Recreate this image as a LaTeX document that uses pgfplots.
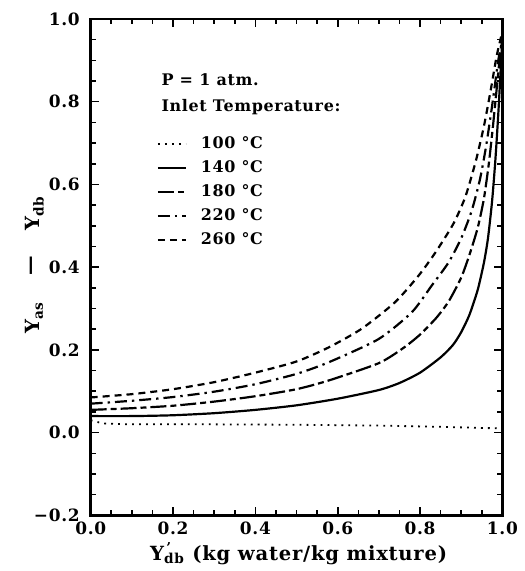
\documentclass[border=0pt]{standalone}
\usepackage{fontspec}
\setmainfont{DejaVu Serif}[LetterSpace=4]
\usepackage{pgfplots}
\pgfplotsset{compat=1.18}

% Y_as - Y_db, one table per inlet temperature
\pgfplotstableread{
x y
0.00 0.030
0.03 0.022
0.10 0.020
0.30 0.020
0.50 0.019
0.70 0.017
0.85 0.014
1.00 0.010
}\tA
\pgfplotstableread{
x y
0.00 0.040
0.10 0.040
0.20 0.042
0.30 0.047
0.40 0.055
0.50 0.066
0.60 0.082
0.70 0.103
0.75 0.120
0.80 0.145
0.85 0.182
0.88 0.212
0.90 0.243
0.92 0.285
0.94 0.345
0.955 0.410
0.965 0.470
0.975 0.560
0.983 0.660
0.990 0.770
0.996 0.880
1.00 0.950
}\tB
\pgfplotstableread{
x y
0.00 0.055
0.10 0.059
0.20 0.065
0.30 0.075
0.40 0.088
0.50 0.105
0.578 0.126
0.70 0.168
0.76 0.205
0.80 0.237
0.84 0.278
0.87 0.318
0.90 0.375
0.92 0.430
0.94 0.495
0.955 0.565
0.967 0.650
0.977 0.740
0.986 0.830
0.994 0.910
1.00 0.950
}\tC
\pgfplotstableread{
x y
0.00 0.070
0.10 0.077
0.20 0.086
0.30 0.099
0.40 0.117
0.50 0.142
0.578 0.170
0.699 0.226
0.78 0.291
0.828 0.355
0.869 0.411
0.90 0.470
0.925 0.535
0.945 0.610
0.960 0.690
0.975 0.790
0.990 0.900
1.00 0.950
}\tD
\pgfplotstableread{
x y
0.00 0.085
0.10 0.093
0.20 0.105
0.30 0.122
0.40 0.145
0.50 0.172
0.578 0.206
0.658 0.251
0.739 0.315
0.796 0.379
0.837 0.435
0.881 0.505
0.910 0.570
0.935 0.655
0.955 0.740
0.972 0.830
0.986 0.910
1.00 0.970
}\tE

\begin{document}
\begin{tikzpicture}
\begin{axis}[
    name=ax,
    width=206.5pt, height=249pt, scale only axis,
    xmin=0, xmax=1, ymin=-0.2, ymax=1.0,
    xtick distance=0.2, minor tick num=3,
    ytick={-0.2,0,0.2,0.4,0.6,0.8,1.0},
    yticklabels={−0.2,0.0,0.2,0.4,0.6,0.8,1.0},
    major tick length=4pt, minor tick length=2.5pt,
    tick style={black, line width=0.8pt},
    axis line style={line width=1.3pt},
    /pgf/number format/fixed, /pgf/number format/fixed zerofill,
    /pgf/number format/precision=1, /pgf/number format/assume math mode=true,
    tick label style={font=\bfseries\fontsize{8.5}{9}\selectfont},
    yticklabel style={xshift=-2pt},
    xlabel={Y\rlap{\textsuperscript{\,'}}\textsubscript{db} (kg water/kg mixture)},
    ylabel={Y\textsubscript{as}\hspace{13pt}\raisebox{1.5pt}{\textemdash}\hspace{13pt}Y\textsubscript{db}},
    label style={font=\bfseries\fontsize{9.8}{11}\selectfont},
    xlabel style={at={(axis description cs:0.505,-0.077)}, anchor=center},
    ylabel style={at={(axis description cs:-0.136,0.505)}, anchor=center},
    legend style={draw=none, fill=none, at={(axis description cs:0.145,0.78)},
        anchor=north west, font=\bfseries\fontsize{8}{10}\selectfont,
        row sep=0.5pt, cells={anchor=west}},
    legend image code/.code={\draw[#1] (0pt,0pt) -- (14pt,0pt); \path (19pt,0pt);},
]
\addplot[black, line width=0.9pt, dash pattern=on 0.9pt off 2.6pt] table {\tA};
\addplot[black, line width=1.1pt, smooth, tension=0.4] table {\tB};
\addplot[black, line width=1.1pt, smooth, tension=0.4, dash pattern=on 8pt off 2pt on 3pt off 2pt] table {\tC};
\addplot[black, line width=1.1pt, smooth, tension=0.4, dash pattern=on 6pt off 2.5pt on 1.2pt off 2.5pt] table {\tD};
\addplot[black, line width=1.1pt, smooth, tension=0.4, dash pattern=on 3.5pt off 2.5pt] table {\tE};
\legend{100 °C, 140 °C, 180 °C, 220 °C, 260 °C}
\node[anchor=west, font=\bfseries\fontsize{8}{10}\selectfont] at (axis cs:0.155,0.853) {P = 1 atm.};
\node[anchor=west, font=\bfseries\fontsize{8}{10}\selectfont] at (axis cs:0.155,0.786) {Inlet Temperature:};
\end{axis}
\path[use as bounding box] ([xshift=-45.5pt, yshift=-27pt]ax.south west)
    rectangle ([xshift=9pt, yshift=9.5pt]ax.north east);
\end{tikzpicture}
\end{document}
